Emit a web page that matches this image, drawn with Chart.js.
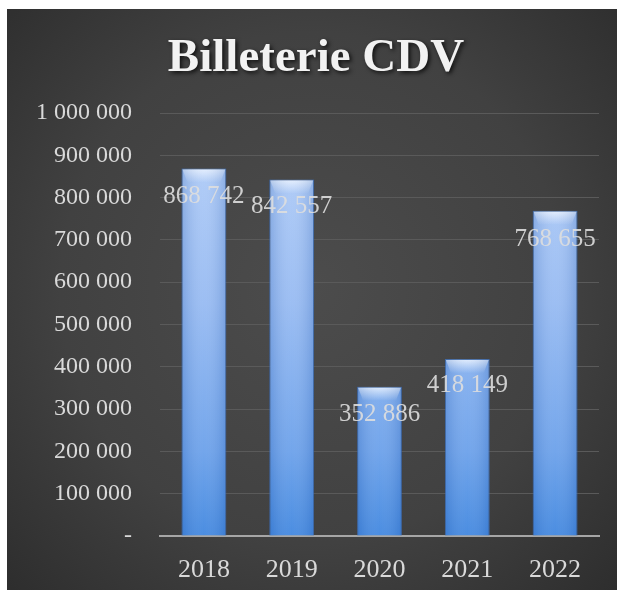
<!DOCTYPE html>
<html>
<head>
<meta charset="utf-8">
<script src="https://cdn.jsdelivr.net/npm/chart.js@4"></script>
<style>
  html, body { margin: 0; padding: 0; background: #ffffff; }
  #box {
    position: absolute; left: 7px; top: 9px; width: 610px; height: 581px;
    background: radial-gradient(ellipse 75% 80% at 50% 48%, #4c4c4c 0%, #414141 55%, #2a2a2a 100%);
  }
</style>
</head>
<body>
<div id="box"><canvas id="chart" width="610" height="581"></canvas></div>
<script>
// Billeterie CDV - yearly ticket sales
const years = ['2018', '2019', '2020', '2021', '2022'];
const tickets = [868742, 842557, 352886, 418149, 768655];

// how far below the bar top each value label sits (px)
const labelDrop = [28, 27, 28, 26, 29];

const serif = "'Liberation Serif', 'DejaVu Serif', serif";

// format 868742 -> "868 742", 0 -> "-"
function fmt(v) {
  if (v === 0) return '-';
  return String(Math.round(v)).replace(/\B(?=(\d{3})+(?!\d))/g, ' ');
}

// vertical blue gradient for the bars
function barFill(context) {
  const chart = context.chart;
  const area = chart.chartArea;
  if (!area) return '#8fb6f0';
  const g = chart.ctx.createLinearGradient(0, area.top, 0, area.bottom);
  g.addColorStop(0, '#b6d0f8');
  g.addColorStop(0.45, '#96baf2');
  g.addColorStop(0.8, '#6aa0ea');
  g.addColorStop(1, '#3f86df');
  return g;
}

// title with a soft shadow
const titlePlugin = {
  id: 'titleText',
  afterDraw(chart) {
    const ctx = chart.ctx;
    ctx.save();
    ctx.font = "bold 47px " + serif;
    ctx.textAlign = 'center';
    ctx.textBaseline = 'middle';
    ctx.shadowColor = 'rgba(0,0,0,0.75)';
    ctx.shadowOffsetX = 2;
    ctx.shadowOffsetY = 2;
    ctx.shadowBlur = 4;
    ctx.fillStyle = '#f2f2f2';
    ctx.fillText('Billeterie CDV', 309, 50);
    ctx.restore();
  }
};

// shine on the top of each bar + value labels
const barExtras = {
  id: 'barExtras',
  afterDatasetsDraw(chart) {
    const ctx = chart.ctx;
    const meta = chart.getDatasetMeta(0);
    ctx.save();
    meta.data.forEach((bar, i) => {
      const w = bar.width;
      const left = bar.x - w / 2;
      // bright cap
      const cap = ctx.createLinearGradient(0, bar.y, 0, bar.y + 14);
      cap.addColorStop(0, 'rgba(235,243,255,0.9)');
      cap.addColorStop(1, 'rgba(235,243,255,0)');
      ctx.fillStyle = cap;
      ctx.beginPath();
      ctx.moveTo(left + 1, bar.y + 1);
      ctx.lineTo(left + w - 1, bar.y + 1);
      ctx.lineTo(left + w - 6, bar.y + 14);
      ctx.lineTo(left + 6, bar.y + 14);
      ctx.closePath();
      ctx.fill();
      // side shading
      const side = ctx.createLinearGradient(left, 0, left + w, 0);
      side.addColorStop(0, 'rgba(40,90,170,0.25)');
      side.addColorStop(0.5, 'rgba(255,255,255,0.06)');
      side.addColorStop(1, 'rgba(40,90,170,0.25)');
      ctx.fillStyle = side;
      ctx.fillRect(left, bar.y, w, bar.base - bar.y);
    });
    ctx.font = "25px " + serif;
    ctx.textAlign = 'center';
    ctx.textBaseline = 'middle';
    ctx.fillStyle = 'rgba(222,222,222,0.9)';
    meta.data.forEach((bar, i) => {
      ctx.fillText(fmt(tickets[i]), bar.x, bar.y + labelDrop[i]);
    });
    ctx.restore();
  }
};

new Chart(document.getElementById('chart'), {
  type: 'bar',
  data: {
    labels: years,
    datasets: [{
      data: tickets,
      backgroundColor: barFill,
      borderColor: 'rgba(70,125,205,0.7)',
      borderWidth: 1,
      barPercentage: 0.51,
      categoryPercentage: 1
    }]
  },
  options: {
    responsive: false,
    animation: false,
    layout: { padding: { top: 104, right: 18, left: 0, bottom: 0 } },
    plugins: {
      legend: { display: false },
      title: { display: false },
      tooltip: { enabled: false }
    },
    scales: {
      x: {
        grid: { display: false },
        border: { color: '#a6a6a6', width: 2 },
        ticks: {
          color: '#d9d9d9',
          font: { family: serif, size: 26 },
          padding: 11
        },
        afterFit(scale) { scale.height = 54; }
      },
      y: {
        min: 0,
        max: 1000000,
        grid: { color: '#5a5a5a', lineWidth: 1, drawTicks: false },
        border: { display: false },
        ticks: {
          stepSize: 100000,
          color: '#d9d9d9',
          font: { family: serif, size: 24 },
          padding: 28,
          callback: v => fmt(v)
        },
        afterFit(scale) { scale.width = 153; }
      }
    }
  },
  plugins: [titlePlugin, barExtras]
});
</script>
</body>
</html>
